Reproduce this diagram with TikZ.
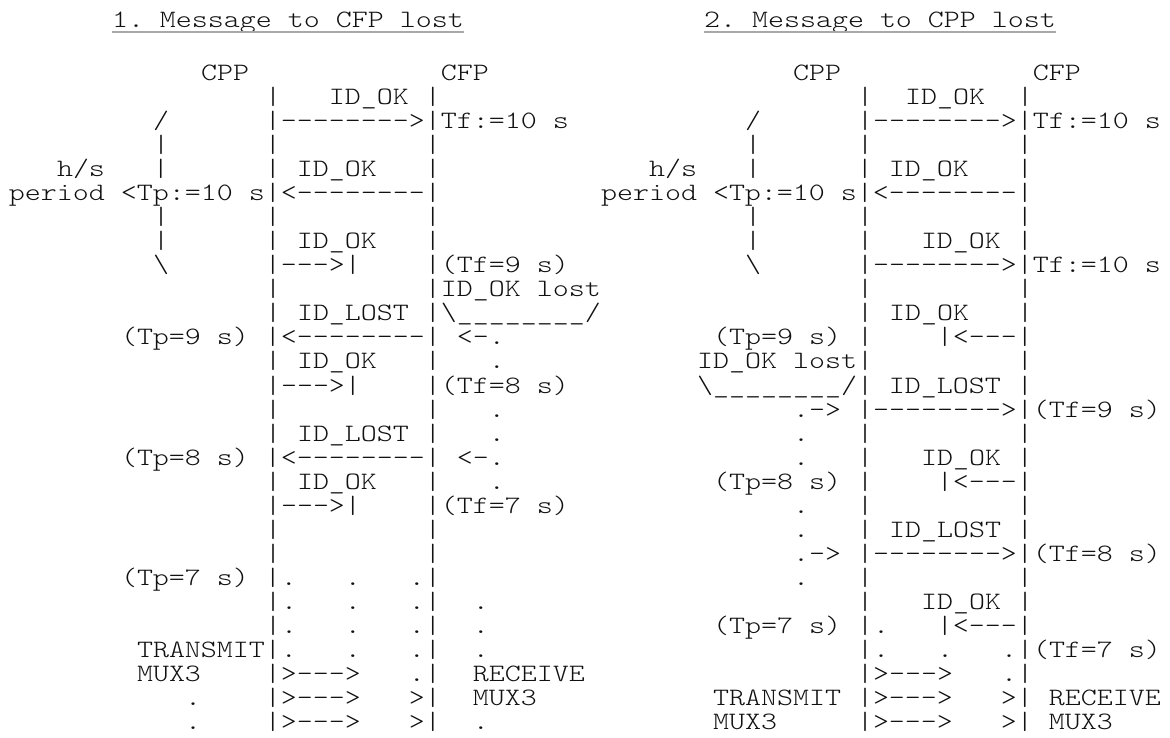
\documentclass[tikz,border=0pt]{standalone}
\usepackage{fontspec}
\usepackage{xcolor}
\usepackage{tikz}
\newfontfamily\asciifont{lmmonolt10-regular}[Extension=.otf, FakeStretch=1.219]
\definecolor{ink}{HTML}{111111}
\definecolor{hair}{HTML}{A8A8A8}
\newcommand\ascfont{\asciifont\fontsize{25}{24}\selectfont\frenchspacing\def~{\hphantom{0}}}
\newcommand\usc{\textunderscore}
\newcommand\bsl{\textbackslash}
\tikzset{
  asc/.style   = {font=\ascfont, text=ink, anchor=base west, inner sep=0pt, outer sep=0pt},
  head/.style  = {asc},
  uline/.style = {draw=hair, line width=1.1pt},
}

\begin{document}
\begin{tikzpicture}[x=1pt,y=-1pt]
\path[use as bounding box] (0,0) rectangle (1170,737);

% ---- headings -----------------------------------------------------------
\node[head] (t1) at (112,27) {1.~Message~to~CFP~lost};
\node[head] (t2) at (704,27) {2.~Message~to~CPP~lost};
\draw[uline] ([yshift=-5pt]t1.base west) -- ([yshift=-5pt]t1.base east);
\draw[uline] ([yshift=-5pt]t2.base west) -- ([yshift=-5pt]t2.base east);

% one unit = one character cell, one row = one text line
\begin{scope}[shift={(9,56.46)}, x=16pt, y=-24.04pt]

% ---- 1. message to CFP lost ---------------------------------------------
\node[asc] (l1)  at (12,1)  {CPP~~~~~~~~~~~~CFP};
\node[asc] (l2)  at (16,2)  {|~~~ID\usc OK~|};
\node[asc] (l3)  at (9,3)   {/~~~~~~|-------->|Tf:=10~s};
\node[asc] (l4)  at (9,4)   {|~~~~~~|~~~~~~~~~|};
\node[asc] (l5)  at (3,5)   {h/s~~~|~~~~~~|~ID\usc OK~~~|};
\node[asc] (l6)  at (0,6)   {period~<Tp:=10~s|<--------|};
\node[asc] (l7)  at (9,7)   {|~~~~~~|~~~~~~~~~|};
\node[asc] (l8)  at (9,8)   {|~~~~~~|~ID\usc OK~~~|};
\node[asc] (l9)  at (9,9)   {\bsl~~~~~~|--->|~~~~|(Tf=9~s)};
\node[asc] (l10) at (16,10) {|~~~~~~~~~|ID\usc OK~lost};
\node[asc] (l11) at (16,11) {|~ID\usc LOST~|\bsl\usc\usc\usc\usc\usc\usc\usc\usc/};
\node[asc] (l12) at (7,12)  {(Tp=9~s)~|<--------|~<-.};
\node[asc] (l13) at (16,13) {|~ID\usc OK~~~|~~~.};
\node[asc] (l14) at (16,14) {|--->|~~~~|(Tf=8~s)};
\node[asc] (l15) at (16,15) {|~~~~~~~~~|~~~.};
\node[asc] (l16) at (16,16) {|~ID\usc LOST~|~~~.};
\node[asc] (l17) at (7,17)  {(Tp=8~s)~|<--------|~<-.};
\node[asc] (l18) at (16,18) {|~ID\usc OK~~~|~~~.};
\node[asc] (l19) at (16,19) {|--->|~~~~|(Tf=7~s)};
\node[asc] (l20) at (16,20) {|~~~~~~~~~|};
\node[asc] (l21) at (16,21) {|~~~~~~~~~|};
\node[asc] (l22) at (7,22)  {(Tp=7~s)~|.~~~.~~~.|};
\node[asc] (l23) at (16,23) {|.~~~.~~~.|~~.};
\node[asc] (l24) at (16,24) {|.~~~.~~~.|~~.};
\node[asc] (l25) at (8,25)  {TRANSMIT|.~~~.~~~.|~~.};
\node[asc] (l26) at (8,26)  {MUX3~~~~|>--->~~~.|~~RECEIVE};
\node[asc] (l27) at (11,27) {.~~~~|>--->~~~>|~~MUX3};
\node[asc] (l28) at (11,28) {.~~~~|>--->~~~>|~~.};

% ---- 2. message to CPP lost ---------------------------------------------
\node[asc] (r1)  at (49,1)  {CPP~~~~~~~~~~~~CFP};
\node[asc] (r2)  at (53,2)  {|~~ID\usc OK~~|};
\node[asc] (r3)  at (46,3)  {/~~~~~~|-------->|Tf:=10~s};
\node[asc] (r4)  at (46,4)  {|~~~~~~|~~~~~~~~~|};
\node[asc] (r5)  at (40,5)  {h/s~~~|~~~~~~|~ID\usc OK~~~|};
\node[asc] (r6)  at (37,6)  {period~<Tp:=10~s|<--------|};
\node[asc] (r7)  at (46,7)  {|~~~~~~|~~~~~~~~~|};
\node[asc] (r8)  at (46,8)  {|~~~~~~|~~~ID\usc OK~|};
\node[asc] (r9)  at (46,9)  {\bsl~~~~~~|-------->|Tf:=10~s};
\node[asc] (r10) at (53,10) {|~~~~~~~~~|};
\node[asc] (r11) at (53,11) {|~ID\usc OK~~~|};
\node[asc] (r12) at (44,12) {(Tp=9~s)~|~~~~|<---|};
\node[asc] (r13) at (43,13) {ID\usc OK~lost|~~~~~~~~~|};
\node[asc] (r14) at (43,14) {\bsl\usc\usc\usc\usc\usc\usc\usc\usc/|~ID\usc LOST~|};
\node[asc] (r15) at (49,15) {.->~|-------->|(Tf=9~s)};
\node[asc] (r16) at (49,16) {.~~~|~~~~~~~~~|};
\node[asc] (r17) at (49,17) {.~~~|~~~ID\usc OK~|};
\node[asc] (r18) at (44,18) {(Tp=8~s)~|~~~~|<---|};
\node[asc] (r19) at (49,19) {.~~~|~~~~~~~~~|};
\node[asc] (r20) at (49,20) {.~~~|~ID\usc LOST~|};
\node[asc] (r21) at (49,21) {.->~|-------->|(Tf=8~s)};
\node[asc] (r22) at (49,22) {.~~~|~~~~~~~~~|};
\node[asc] (r23) at (53,23) {|~~~ID\usc OK~|};
\node[asc] (r24) at (44,24) {(Tp=7~s)~|.~~~|<---|};
\node[asc] (r25) at (53,25) {|.~~~.~~~.|(Tf=7~s)};
\node[asc] (r26) at (53,26) {|>--->~~~.|};
\node[asc] (r27) at (44,27) {TRANSMIT~|>--->~~~>|~RECEIVE};
\node[asc] (r28) at (44,28) {MUX3~~~~~|>--->~~~>|~MUX3};

\end{scope}
\end{tikzpicture}
\end{document}
